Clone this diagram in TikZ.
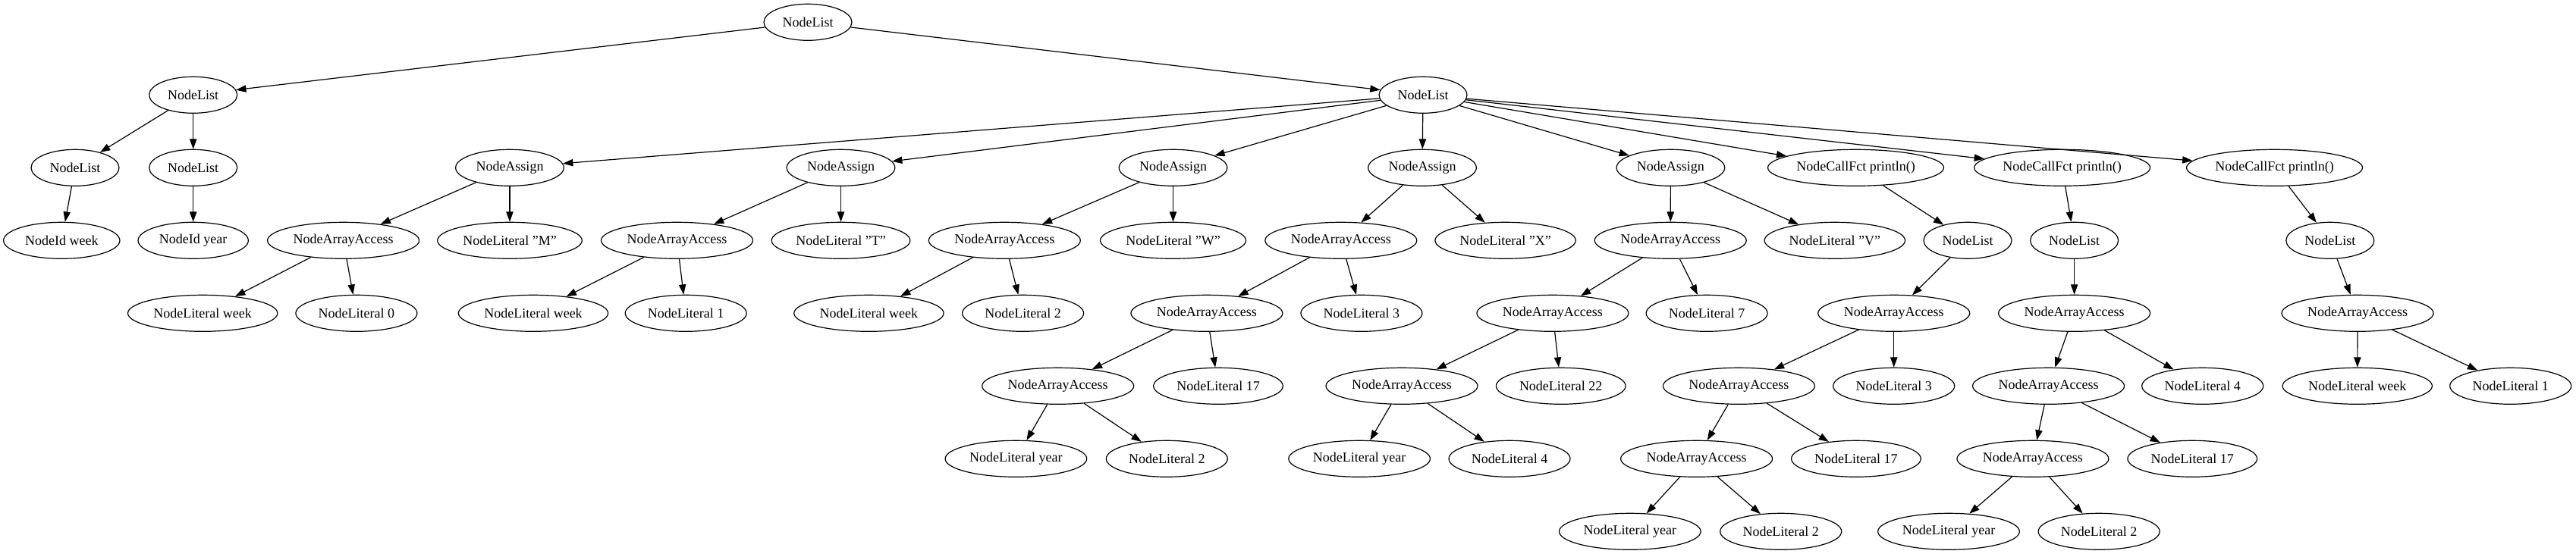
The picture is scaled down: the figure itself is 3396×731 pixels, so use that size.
\documentclass[tikz,border=0pt]{standalone}
\usepackage{fontspec}
\setmainfont{Liberation Serif}
\usetikzlibrary{shapes.geometric,arrows.meta}
\begin{document}
\begin{tikzpicture}[x=0.75pt,y=-0.75pt,
  gv/.style={draw,ellipse,inner sep=0pt,line width=0.9pt,minimum height=36pt,
    font=\fontsize{13.5pt}{16pt}\selectfont},
  wlist/.style={gv,minimum width=87pt},
  wassign/.style={gv,minimum width=107pt},
  waa/.style={gv,minimum width=150pt},
  wcall/.style={gv,minimum width=174pt},
  wweek/.style={gv,minimum width=148pt},
  wdig/.style={gv,minimum width=120pt},
  wtwo/.style={gv,minimum width=128pt},
  wyear/.style={gv,minimum width=140pt},
  e/.style={-{Triangle[length=10pt,width=7pt]},line width=0.9pt}]
\fill[white] (0,0) rectangle (3396,731);
\useasboundingbox (0,0) rectangle (3396,731);
% level 0
\node[wlist] (R) at (1065,29.3) {NodeList};
% level 1
\node[wlist] (A) at (254.7,125.3) {NodeList};
\node[wlist] (B) at (1876,125.3) {NodeList};
% level 2
\node[wlist] (A1) at (99,221.3) {NodeList};
\node[wlist] (A2) at (254.7,221.3) {NodeList};
\node[wassign] (S1) at (672,221.3) {NodeAssign};
\node[wassign] (S2) at (1108.5,221.3) {NodeAssign};
\node[wassign] (S3) at (1546.5,221.3) {NodeAssign};
\node[wassign] (S4) at (1875,221.3) {NodeAssign};
\node[wassign] (S5) at (2202.4,221.3) {NodeAssign};
\node[wcall] (C1) at (2446.5,221.3) {NodeCallFct println()};
\node[wcall] (C2) at (2718.6,221.3) {NodeCallFct println()};
\node[wcall] (C3) at (2998.5,221.3) {NodeCallFct println()};
% level 3
\node[gv,minimum width=115pt] (IW) at (81.3,317.3) {NodeId week};
\node[gv,minimum width=109pt] (IY) at (254.7,317.3) {NodeId year};
\node[waa] (P1) at (452.6,317.3) {NodeArrayAccess};
\node[gv,minimum width=143pt] (LM) at (672,317.3) {NodeLiteral "M"};
\node[waa] (P2) at (892.5,317.3) {NodeArrayAccess};
\node[gv,minimum width=137pt] (LT) at (1108.5,317.3) {NodeLiteral "T"};
\node[waa] (P3) at (1324.3,317.3) {NodeArrayAccess};
\node[gv,minimum width=144pt] (LW) at (1546.5,317.3) {NodeLiteral "W"};
\node[waa] (P4) at (1767.8,317.3) {NodeArrayAccess};
\node[gv,minimum width=139pt] (LX) at (1984.6,317.3) {NodeLiteral "X"};
\node[waa] (P5) at (2202.2,317.3) {NodeArrayAccess};
\node[gv,minimum width=139pt] (LV) at (2418.8,317.3) {NodeLiteral "V"};
\node[wlist] (K1) at (2594,317.3) {NodeList};
\node[wlist] (K2) at (2734.6,317.3) {NodeList};
\node[wlist] (K3) at (3071.8,317.3) {NodeList};
% level 4
\node[wweek] (W1) at (267.2,413.3) {NodeLiteral week};
\node[wdig] (D0) at (469.9,413.3) {NodeLiteral 0};
\node[wweek] (W2) at (703,413.3) {NodeLiteral week};
\node[wdig] (D1) at (904.2,413.3) {NodeLiteral 1};
\node[wweek] (W3) at (1145.4,413.3) {NodeLiteral week};
\node[wdig] (D2) at (1348.6,413.3) {NodeLiteral 2};
\node[waa] (Q4) at (1590.9,413.3) {NodeArrayAccess};
\node[wdig] (D3) at (1794.9,413.3) {NodeLiteral 3};
\node[waa] (Q5) at (2046.9,413.3) {NodeArrayAccess};
\node[wdig] (D7) at (2250.1,413.3) {NodeLiteral 7};
\node[waa] (QK1) at (2496.7,413.3) {NodeArrayAccess};
\node[waa] (QK2) at (2734.6,413.3) {NodeArrayAccess};
\node[waa] (QK3) at (3108,413.3) {NodeArrayAccess};
% level 5
\node[waa] (U4) at (1394.7,509.3) {NodeArrayAccess};
\node[wtwo] (T17a) at (1606,509.3) {NodeLiteral 17};
\node[waa] (U5) at (1848,509.3) {NodeArrayAccess};
\node[wtwo] (T22) at (2057.7,509.3) {NodeLiteral 22};
\node[waa] (UK1) at (2292.4,509.3) {NodeArrayAccess};
\node[wdig] (D3b) at (2496.7,509.3) {NodeLiteral 3};
\node[waa] (UK2) at (2700.5,509.3) {NodeArrayAccess};
\node[wdig] (D4b) at (2903.7,509.3) {NodeLiteral 4};
\node[wweek] (W4) at (3107.7,509.3) {NodeLiteral week};
\node[wdig] (D1c) at (3309.7,509.3) {NodeLiteral 1};
% level 6
\node[wyear] (Y1) at (1339.4,605.3) {NodeLiteral year};
\node[wdig] (D2b) at (1538.3,605.3) {NodeLiteral 2};
\node[wyear] (Y2) at (1792.1,605.3) {NodeLiteral year};
\node[wdig] (D4c) at (1990,605.3) {NodeLiteral 4};
\node[waa] (VK1) at (2236.6,605.3) {NodeArrayAccess};
\node[wtwo] (T17b) at (2446.9,605.3) {NodeLiteral 17};
\node[waa] (VK2) at (2679.9,605.3) {NodeArrayAccess};
\node[wtwo] (T17c) at (2890.2,605.3) {NodeLiteral 17};
% level 7
\node[wyear] (Y3) at (2148.8,701.3) {NodeLiteral year};
\node[wdig] (D2c) at (2347.7,701.3) {NodeLiteral 2};
\node[wyear] (Y4) at (2569,701.3) {NodeLiteral year};
\node[wdig] (D2d) at (2767.1,701.3) {NodeLiteral 2};
% edges
\draw[e] (R) -- (A);
\draw[e] (R) -- (B);
\draw[e] (A) -- (A1);
\draw[e] (A) -- (A2);
\draw[e] (A1) -- (IW);
\draw[e] (A2) -- (IY);
\foreach \s in {S1,S2,S3,S4,S5,C1,C2,C3} {\draw[e] (B) -- (\s);}
\draw[e] (S1) -- (P1); \draw[e] (S1) -- (LM);
\draw[e] (S2) -- (P2); \draw[e] (S2) -- (LT);
\draw[e] (S3) -- (P3); \draw[e] (S3) -- (LW);
\draw[e] (S4) -- (P4); \draw[e] (S4) -- (LX);
\draw[e] (S5) -- (P5); \draw[e] (S5) -- (LV);
\draw[e] (C1) -- (K1); \draw[e] (C2) -- (K2); \draw[e] (C3) -- (K3);
\draw[e] (P1) -- (W1); \draw[e] (P1) -- (D0);
\draw[e] (P2) -- (W2); \draw[e] (P2) -- (D1);
\draw[e] (P3) -- (W3); \draw[e] (P3) -- (D2);
\draw[e] (P4) -- (Q4); \draw[e] (P4) -- (D3);
\draw[e] (P5) -- (Q5); \draw[e] (P5) -- (D7);
\draw[e] (K1) -- (QK1); \draw[e] (K2) -- (QK2); \draw[e] (K3) -- (QK3);
\draw[e] (Q4) -- (U4); \draw[e] (Q4) -- (T17a);
\draw[e] (Q5) -- (U5); \draw[e] (Q5) -- (T22);
\draw[e] (QK1) -- (UK1); \draw[e] (QK1) -- (D3b);
\draw[e] (QK2) -- (UK2); \draw[e] (QK2) -- (D4b);
\draw[e] (QK3) -- (W4); \draw[e] (QK3) -- (D1c);
\draw[e] (U4) -- (Y1); \draw[e] (U4) -- (D2b);
\draw[e] (U5) -- (Y2); \draw[e] (U5) -- (D4c);
\draw[e] (UK1) -- (VK1); \draw[e] (UK1) -- (T17b);
\draw[e] (UK2) -- (VK2); \draw[e] (UK2) -- (T17c);
\draw[e] (VK1) -- (Y3); \draw[e] (VK1) -- (D2c);
\draw[e] (VK2) -- (Y4); \draw[e] (VK2) -- (D2d);
\end{tikzpicture}
\end{document}
